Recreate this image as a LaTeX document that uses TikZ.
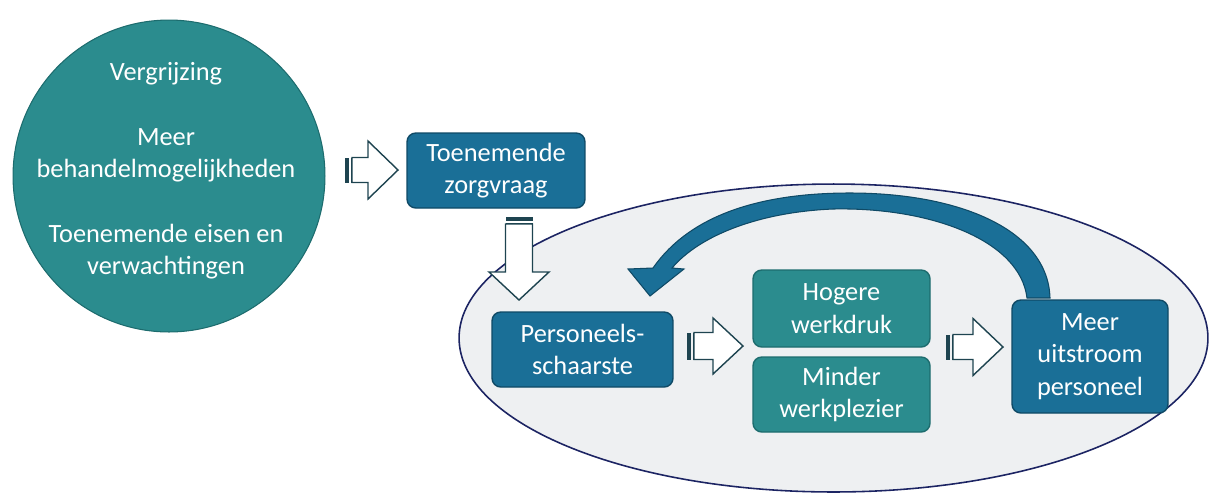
\documentclass[tikz,border=0pt]{standalone}
\usepackage{fontspec}
\setmainfont{Carlito}
\usepackage{tikz}
\usepackage{xcolor}
\usetikzlibrary{calc, positioning}
\definecolor{zorgblue}{HTML}{1A6F97}
\definecolor{zorgblueline}{HTML}{0F4A66}
\definecolor{zorgteal}{HTML}{2B8C8E}
\definecolor{zorgtealline}{HTML}{1D6C6E}
\definecolor{ringfill}{HTML}{EEF0F2}
\definecolor{ringline}{HTML}{1C2463}
\definecolor{blockline}{HTML}{1E4450}
\tikzset{
    bluebox/.style={draw=zorgblueline, fill=zorgblue, line width=0.8pt, rounded corners=5pt,
        text=white, align=center, inner sep=0pt, font=\fontsize{15pt}{18.5pt}\selectfont},
    tealbox/.style={bluebox, draw=zorgtealline, fill=zorgteal},
    blockbody/.style={draw=blockline, fill=white, line width=0.8pt, line join=miter},
    blockstripe/.style={fill=blockline},
    loopring/.style={draw=ringline, fill=ringfill, line width=0.9pt},
    looparrow/.style={draw=zorgblueline, fill=zorgblue, line width=0.6pt}
}
\newcommand{\stripedarrow}[7]{
    \begin{scope}[shift={(#2)}, rotate=#3]
    \fill[blockstripe] (0,-#6) rectangle (4,#6);
    \fill[blockstripe] (5.5,-#6) rectangle (7,#6);
    \draw[blockbody]
    (7,-#6) -- ({#4-#5},-#6) -- ({#4-#5},-#7) -- (#4,0) -- ({#4-#5},#7) -- ({#4-#5},#6) -- (7,#6) -- cycle;
    \coordinate (#1-tip) at (#4,0);
    \end{scope}
}

\begin{document}
\begin{tikzpicture}[x=0.02cm, y=-0.02cm]
    \useasboundingbox (0,0) rectangle (1212,498);
    \draw[loopring] (833.5,338) ellipse [x radius=7.49cm, y radius=3.08cm];
    \node[circle, draw=zorgtealline, fill=zorgteal, line width=0.6pt, minimum size=6.24cm, inner sep=0pt] (drivers) at (169,176) {};
    \node[text=white, align=center, font=\fontsize{15pt}{18.4pt}\selectfont] (drivers-text) at ($(drivers.center)+(-3,-5)$)
        {Vergrijzing\\[18.4pt]Meer\\behandelmogelijkheden\\[18.4pt]Toenemende eisen en\\verwachtingen};
    \node[bluebox, minimum width=3.56cm, minimum height=1.5cm] (zorg) at (496,170.5) {Toenemende\\zorgvraag};
    \node[bluebox, minimum width=3.62cm, minimum height=1.5cm] (schaarste) at (582.5,349.5) {Personeels-\\schaarste};
    \node[tealbox, minimum width=3.54cm, minimum height=1.54cm] (werkdruk) at (841.5,308.5) {Hogere\\werkdruk};
    \node[tealbox, minimum width=3.54cm, minimum height=1.5cm] (plezier) at (841.5,394.5) {Minder\\werkplezier};
    \node[bluebox, minimum width=3.12cm, minimum height=2.26cm] (uitstroom) at (1090,356.5) {Meer\\uitstroom\\personeel};
    \stripedarrow{a1}{345,170}{0}{53}{30}{12.5}{29}
    \stripedarrow{a2}{519,217}{-90}{83}{28}{13.5}{30}
    \stripedarrow{a3}{687,346}{0}{56}{30}{13.5}{28}
    \stripedarrow{a4}{946,347}{0}{57}{30}{12.5}{28.5}
    \draw[looparrow]
    (1027,298) .. controls (1020,240) and (930,207) .. (833,209)
    .. controls (760,212) and (700,235) .. (672,268) -- (684,269) -- (650,296) -- (628,269) -- (653,268)
    .. controls (690,215) and (760,193) .. (850,193)
    .. controls (960,193) and (1048,230) .. (1050,298) -- cycle;
\end{tikzpicture}
\end{document}
